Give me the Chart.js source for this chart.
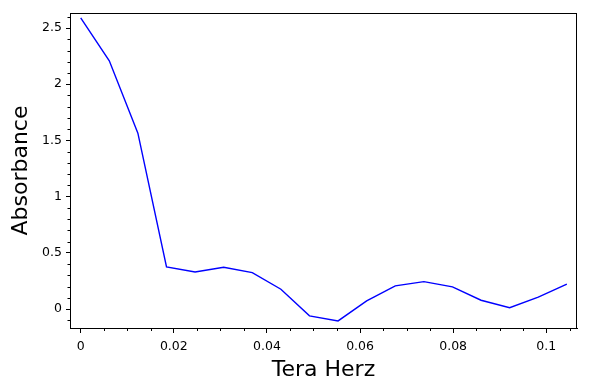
<!DOCTYPE html>
<html>
<head>
<meta charset="utf-8">
<script src="https://cdn.jsdelivr.net/npm/chart.js@4/dist/chart.umd.min.js"></script>
<style>
  html, body { margin: 0; padding: 0; background: #fff; }
  #wrap { width: 590px; height: 390px; }
</style>
</head>
<body>
<div id="wrap"><canvas id="chart" width="590" height="390"></canvas></div>
<script>
// frequency (THz) and absorbance
const freqs = [0, 0.00614, 0.01228, 0.01843, 0.02457, 0.03071, 0.03685, 0.043, 0.04914,
  0.05528, 0.06142, 0.06757, 0.07371, 0.07985, 0.08599, 0.09213, 0.09828, 0.10442];
const absorbance = [2.59, 2.209, 1.565, 0.375, 0.33, 0.372, 0.324, 0.176, -0.061,
  -0.106, 0.072, 0.206, 0.244, 0.197, 0.078, 0.012, 0.105, 0.221];

const xTicks = [0, 0.02, 0.04, 0.06, 0.08, 0.1];
const xTickLabels = ['0', '0.02', '0.04', '0.06', '0.08', '0.1'];
const yTicks = [0, 0.5, 1, 1.5, 2, 2.5];
const yTickLabels = ['0', '0.5', '1', '1.5', '2', '2.5'];

const FONT = 'DejaVu Sans';

// frame round the plot + small minor ticks, like matplotlib
const framePlugin = {
  id: 'frame',
  afterDraw(chart) {
    const { ctx, chartArea: a, scales } = chart;
    ctx.save();
    ctx.strokeStyle = '#000';
    ctx.lineWidth = 1;
    ctx.strokeRect(Math.round(a.left) + 0.5, Math.round(a.top) + 0.5,
      Math.round(a.right - a.left) - 1, Math.round(a.bottom - a.top));
    ctx.beginPath();
    for (let i = 0; i <= 21; i++) {
      if (i % 4 === 0) continue;
      const px = Math.round(scales.x.getPixelForValue(i * 0.005)) + 0.5;
      ctx.moveTo(px, a.bottom);
      ctx.lineTo(px, a.bottom + 3);
    }
    for (let i = -1; i <= 26; i++) {
      if (i % 5 === 0) continue;
      const py = Math.round(scales.y.getPixelForValue(i * 0.1)) + 0.5;
      ctx.moveTo(a.left, py);
      ctx.lineTo(a.left - 2.5, py);
    }
    ctx.stroke();
    ctx.restore();
  }
};

const ctx = document.getElementById('chart').getContext('2d');
new Chart(ctx, {
  type: 'line',
  data: {
    datasets: [{
      data: freqs.map((f, i) => ({ x: f, y: absorbance[i] })),
      borderColor: '#0000ff',
      borderWidth: 1.4,
      pointRadius: 0,
      tension: 0,
      fill: false,
    }],
  },
  options: {
    responsive: false,
    animation: false,
    devicePixelRatio: 1,
    layout: { padding: { top: 13, right: 13, left: 0, bottom: 0 } },
    plugins: { legend: { display: false }, tooltip: { enabled: false } },
    scales: {
      x: {
        type: 'linear',
        min: -0.0023,
        max: 0.1066,
        afterBuildTicks: (s) => { s.ticks = xTicks.map(v => ({ value: v })); },
        afterFit: (s) => { s.height = 62; },
        ticks: {
          callback: (v, i) => xTickLabels[i],
          font: { family: FONT, size: 12.5 },
          color: '#000',
          padding: 6,
          maxRotation: 0,
        },
        grid: { drawOnChartArea: false, tickLength: 5, color: '#000' },
        border: { display: true, color: '#000' },
        title: {
          display: true,
          text: 'Tera Herz',
          font: { family: FONT, size: 22 },
          color: '#000',
          padding: { top: 0, bottom: 7 },
        },
      },
      y: {
        type: 'linear',
        min: -0.169,
        max: 2.634,
        afterBuildTicks: (s) => { s.ticks = yTicks.map(v => ({ value: v })); },
        afterFit: (s) => { s.width = 70; },
        ticks: {
          callback: (v, i) => yTickLabels[i],
          font: { family: FONT, size: 12.5 },
          color: '#000',
          padding: 4,
        },
        grid: { drawOnChartArea: false, tickLength: 4, color: '#000' },
        border: { display: true, color: '#000' },
        title: {
          display: true,
          text: 'Absorbance',
          font: { family: FONT, size: 22 },
          color: '#000',
          padding: { top: 8, bottom: 0 },
        },
      },
    },
  },
  plugins: [framePlugin],
});
</script>
</body>
</html>
